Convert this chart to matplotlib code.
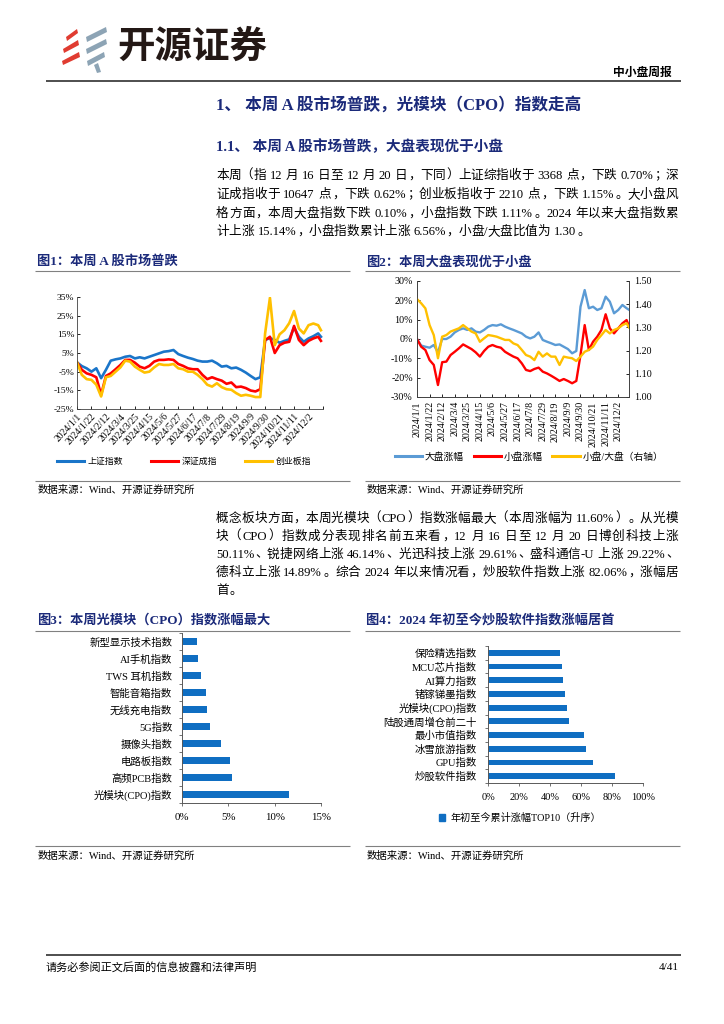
import re
import numpy as np
import pandas as pd
import matplotlib
matplotlib.use('Agg')
import matplotlib.pyplot as plt
from matplotlib.patches import Polygon, Patch
from matplotlib.lines import Line2D

CJK = 'Noto Sans CJK SC'
SERIF = ['Liberation Serif', CJK, 'DejaVu Sans']
plt.rcParams['font.family'] = SERIF
plt.rcParams['axes.unicode_minus'] = False

# ---------------- data ----------------
dates = list(pd.date_range('2024-01-01', '2024-12-16', freq='7D')) + [pd.Timestamp('2024-12-20')]

sh_index = [0, -2.0, -3.2, -5.0, -3.2, -8.5, -4.0, 0.9, 1.6, 2.1,
            3.0, 3.4, 2.1, 2.7, 2.1, 3.0, 3.9, 4.8, 5.7, 6.0,
            6.6, 4.4, 3.4, 2.5, 1.8, 0.9, 0.4, 0.4, 0.9, -0.5,
            -2.3, -1.9, -3.2, -2.8, -4.0, -5.5, -7.3, -9.0, -8.0, 12.0,
            13.0, 12.0, 10.5, 11.5, 12.3, 18.7, 13.7, 11.0, 12.8, 14.0,
            15.5, 13.7]
sz_index = [0, -4.0, -5.9, -6.7, -8.0, -17.4, -7.3, -5.9, -3.7, -1.4,
            1.3, 1.3, -0.2, -2.3, -3.2, -1.9, 0.4, 1.3, 1.3, 1.6,
            1.3, -0.9, -1.9, -3.2, -3.7, -3.7, -6.7, -9.0, -8.0, -9.0,
            -9.8, -11.5, -10.8, -13.3, -13.0, -13.8, -15.1, -15.6, -14.4, 11.9,
            13.7, 5.0, 9.2, 10.5, 11.0, 19.5, 12.0, 9.2, 11.5, 12.8,
            13.7, 11.5]
cyb_index = [0, -6.7, -9.0, -9.4, -12.0, -18.3, -8.0, -7.3, -5.0, -2.7,
             0.9, 0.4, -2.3, -4.0, -5.5, -5.0, -2.7, -0.9, -1.4, -1.4,
             -0.9, -3.2, -3.7, -5.0, -5.0, -6.7, -9.0, -12.0, -13.0, -11.2,
             -13.3, -14.4, -14.7, -16.5, -17.9, -17.4, -17.9, -18.6, -18.6, 15.5,
             34.6, 9.2, 15.0, 17.2, 21.0, 27.5, 18.1, 15.5, 19.9, 20.8,
             19.9, 17.2]
chart1_names = ['上证指数', '深证成指', '创业板指']

big_cap = [0, -3.4, -4.0, -4.5, -3.1, -6.9, 0, 0, 1.2, 3.4,
           4.7, 5.5, 4.7, 5.5, 3.8, 3.4, 4.7, 6.4, 7.2, 6.9,
           7.6, 6.4, 5.5, 4.7, 3.8, 2.9, 1.2, 0.3, 1.2, 3.4,
           -0.5, -1.4, -2.2, -3.1, -2.8, -4.0, -5.2, -7.4, -6.2, 16.7,
           25.3, 15.9, 16.7, 15.0, 15.9, 21.9, 19.3, 13.3, 15.0, 17.6,
           15.9, 15.1]
small_cap = [0, -4.0, -5.7, -10.9, -13.4, -23.8, -12.0, -11.7, -8.3, -6.6,
             -4.8, -2.8, -4.0, -5.2, -6.9, -9.1, -6.2, -4.0, -3.1, -4.0,
             -4.5, -6.6, -7.9, -9.1, -10.0, -12.6, -16.0, -16.6, -15.5, -14.8,
             -16.9, -17.8, -19.0, -20.3, -21.7, -20.7, -21.7, -22.9, -21.7, -8.3,
             7.2, -5.7, -1.4, 1.2, 4.7, 12.8, 5.5, 2.9, 5.5, 8.1,
             9.8, 6.6]
small_big_ratio = [1.422, 1.404, 1.382, 1.31, 1.267, 1.167, 1.26, 1.267, 1.282, 1.289,
                   1.296, 1.31, 1.296, 1.282, 1.274, 1.238, 1.253, 1.267, 1.264, 1.26,
                   1.253, 1.246, 1.246, 1.231, 1.224, 1.203, 1.181, 1.174, 1.159, 1.195,
                   1.174, 1.188, 1.174, 1.174, 1.138, 1.174, 1.17, 1.167, 1.155, 1.174,
                   1.195, 1.203, 1.217, 1.246, 1.267, 1.289, 1.274, 1.289, 1.296, 1.31,
                   1.318, 1.30]
chart2_names = ['大盘涨幅', '小盘涨幅', '小盘/大盘（右轴）']

cpo_cats = ['新型显示技术指数', 'AI手机指数', 'TWS 耳机指数', '智能音箱指数', '无线充电指数',
            '5G指数', '摄像头指数', '电路板指数', '高频PCB指数', '光模块(CPO)指数']
cpo_vals = [1.66, 1.7, 2.0, 2.56, 2.74, 3.0, 4.19, 5.13, 5.4, 11.6]

ytd_cats = ['保险精选指数', 'MCU芯片指数', 'AI算力指数', '锗镓锑墨指数', '光模块(CPO)指数',
            '陆股通周增仓前二十', '最小市值指数', '冰雪旅游指数', 'GPU指数', '炒股软件指数']
ytd_vals = [46.2, 48.0, 48.2, 49.7, 50.8, 52.5, 62.0, 63.2, 68.0, 82.06]
ytd_legend = '年初至今累计涨幅TOP10（升序）'

para1 = ['本周（指 12 月 16 日至 12 月 20 日，下同）上证综指收于 3368 点，下跌 0.70%；深',
         '证成指收于 10647 点，下跌 0.62%；创业板指收于 2210 点，下跌 1.15%。大小盘风',
         '格方面，本周大盘指数下跌 0.10%，小盘指数下跌 1.11%。2024 年以来大盘指数累',
         '计上涨 15.14%，小盘指数累计上涨 6.56%，小盘/大盘比值为 1.30。']
para2 = ['概念板块方面，本周光模块（CPO）指数涨幅最大（本周涨幅为 11.60%）。从光模',
         '块（CPO）指数成分表现排名前五来看，12 月 16 日至 12 月 20 日博创科技上涨',
         '50.11%、锐捷网络上涨 46.14%、光迅科技上涨 29.61%、盛科通信-U 上涨 29.22%、',
         '德科立上涨 14.89%。综合 2024 年以来情况看，炒股软件指数上涨 82.06%，涨幅居',
         '首。']

# ---------------- styles ----------------
NAVY = '#1B2A7A'
BLUE1 = '#1A75C9'
RED = '#FF0000'
GOLD = '#FFC000'
LBLUE = '#5B9BD5'
BAR = '#0F6EC2'
GRAY = '#808080'

W, H = 724, 1024
fig = plt.figure(figsize=(W / 100, H / 100), dpi=100)
page = fig.add_axes([0, 0, 1, 1])
page.set_xlim(0, W)
page.set_ylim(H, 0)
page.axis('off')
renderer = fig.canvas.get_renderer()


def px_rect(x0, y0, x1, y1):
    return [x0 / W, 1 - y1 / H, (x1 - x0) / W, (y1 - y0) / H]


def hline(y, x0, x1, lw=0.8, color=GRAY):
    page.plot([x0, x1], [y, y], color=color, lw=lw, solid_capstyle='butt')


OPEN = '（《“‘【'
CLOSE = '，。、；：）》”’】！？'


def put_line(yc, s, x0=216, x1=None, size=9.1, color='black'):
    parts = re.findall(r'\s+|[\x21-\x7e]+|.', s)
    toks, gaps, pend = [], [], False
    for p in parts:
        if p.isspace():
            pend = True
            continue
        toks.append(p)
        gaps.append(pend)
        pend = False
    em = size * 100 / 72
    sp = 0.28 * em
    base = yc + 0.36 * em
    objs, widths = [], []
    for t in toks:
        if len(t) == 1 and ord(t) > 0x2E7F:
            if t in OPEN:
                o = page.text(0, base, t, fontsize=size, color=color, ha='right', va='baseline')
            elif t in CLOSE:
                o = page.text(0, base, t, fontsize=size, color=color, ha='left', va='baseline')
            else:
                o = page.text(0, base, t, fontsize=size, color=color, ha='center', va='baseline')
            objs.append(o)
            widths.append(em)
        else:
            o = page.text(0, base, t, fontsize=size, color=color, ha='left', va='baseline')
            objs.append(o)
            widths.append(o.get_window_extent(renderer).width)
    total = sum(widths) + sp * sum(gaps[1:])
    extra = 0.0
    if x1 is not None and len(toks) > 1:
        extra = (x1 - x0 - total) / (len(toks) - 1)
    x = x0
    for i, (t, o) in enumerate(zip(toks, objs)):
        if i > 0:
            x += extra + (sp if gaps[i] else 0)
        if len(t) == 1 and ord(t) > 0x2E7F:
            if t in OPEN:
                o.set_x(x + widths[i] * 0.95)
            elif t in CLOSE:
                o.set_x(x + widths[i] * 0.08)
            else:
                o.set_x(x + widths[i] / 2)
        else:
            o.set_x(x)
        x += widths[i]


# ---------------- header ----------------
red_logo = [[(66, 37), (77, 29), (78, 33), (67, 41)],
            [(63, 49), (78, 40), (79, 45), (64, 53)],
            [(62, 61), (79, 52), (80, 57), (63, 65)]]
gray_logo = [[(86, 37), (106, 27), (107, 32), (87, 42)],
             [(86, 49), (106, 39), (107, 44), (87, 54)],
             [(87, 61), (104, 52), (105, 57), (88, 66)],
             [(94, 65), (98, 63), (101, 72), (97, 73)]]
for pts in red_logo:
    page.add_patch(Polygon(pts, closed=True, color='#E03C31', lw=0))
for pts in gray_logo:
    page.add_patch(Polygon(pts, closed=True, color='#8DA4B5', lw=0))
page.text(117, 46, '开源证券', fontsize=27, fontweight='bold', family=CJK,
          color='#231815', ha='left', va='center')
page.text(672, 73, '中小盘周报', fontsize=8.5, fontweight='bold', ha='right', va='center')
hline(81, 46, 681, lw=1.3, color='#404040')

page.text(216, 105, '1、 本周 A 股市场普跌，光模块（CPO）指数走高', fontsize=12,
          fontweight='bold', color=NAVY, ha='left', va='center')
page.text(216, 147, '1.1、 本周 A 股市场普跌，大盘表现优于小盘', fontsize=10.5,
          fontweight='bold', color=NAVY, ha='left', va='center')

for i, (yy, s) in enumerate(zip([174, 193, 212, 230], para1)):
    put_line(yy, s, 216, None if i == len(para1) - 1 else 678)
for i, (yy, s) in enumerate(zip([517, 535, 553, 571, 589], para2)):
    put_line(yy, s, 216, None if i == len(para2) - 1 else 678)

# chart titles / rules
page.text(37, 262, '图1：本周 A 股市场普跌', fontsize=9.5, fontweight='bold', color=NAVY, va='center')
page.text(366, 262, '图2：本周大盘表现优于小盘', fontsize=9.5, fontweight='bold', color=NAVY, va='center')
hline(271, 35, 350)
hline(271, 365, 680)
hline(481, 35, 350)
hline(481, 365, 680)
page.text(38, 490, '数据来源：Wind、开源证券研究所', fontsize=7.5, va='center')
page.text(367, 490, '数据来源：Wind、开源证券研究所', fontsize=7.5, va='center')

page.text(37, 620, '图3：本周光模块（CPO）指数涨幅最大', fontsize=9.5, fontweight='bold', color=NAVY, va='center')
page.text(366, 620, '图4：2024 年初至今炒股软件指数涨幅居首', fontsize=9.5, fontweight='bold', color=NAVY, va='center')
hline(631, 35, 350)
hline(631, 365, 680)
hline(846, 35, 350)
hline(846, 365, 680)
page.text(38, 856, '数据来源：Wind、开源证券研究所', fontsize=7.5, va='center')
page.text(367, 856, '数据来源：Wind、开源证券研究所', fontsize=7.5, va='center')

# footer
hline(955, 46, 681, lw=1.3, color='#404040')
page.text(46, 967, '请务必参阅正文后面的信息披露和法律声明', fontsize=8, va='center')
page.text(679, 967, '4/41', fontsize=8, ha='right', va='center')

# ---------------- chart 1 ----------------
d0 = pd.Timestamp('2024-01-01')
ax1 = fig.add_axes(px_rect(77, 297, 323, 409))
for vals, col in zip([sh_index, sz_index, cyb_index], [BLUE1, RED, GOLD]):
    ax1.plot(dates, vals, color=col, lw=1.9)
ax1.set_xlim(d0, d0 + pd.Timedelta(days=357))
ax1.set_ylim(-25, 35)
ax1.set_yticks(np.arange(-25, 36, 10))
ax1.set_yticklabels([f'{v:.0f}%' for v in np.arange(-25, 36, 10)])
t1 = [d0 + pd.Timedelta(days=21 * k) for k in range(18)]
ax1.set_xticks(t1)
ax1.set_xticklabels([f'{d.year}/{d.month}/{d.day}' for d in t1[:-1]] + [''])
for lab in ax1.get_xticklabels():
    lab.set_rotation(47)
    lab.set_ha('right')
    lab.set_rotation_mode('anchor')
ax1.tick_params(direction='in', length=2.5, width=0.6, pad=2)
ax1.tick_params(axis='x', labelsize=6.9)
ax1.tick_params(axis='y', labelsize=6.8)
for s in ['top', 'right']:
    ax1.spines[s].set_visible(False)
for s in ['left', 'bottom']:
    ax1.spines[s].set_linewidth(0.6)
    ax1.spines[s].set_color('#404040')
h1 = [Line2D([0], [0], color=c, lw=2.2) for c in [BLUE1, RED, GOLD]]
fig.legend(h1, chart1_names, loc='center', bbox_to_anchor=(184 / W, 1 - 462 / H), ncol=3,
           frameon=False, fontsize=6.4, handlelength=3.0, handletextpad=0.4, columnspacing=3.2)

# ---------------- chart 2 ----------------
ax2 = fig.add_axes(px_rect(417, 281, 629, 397))
ax2.plot(dates, big_cap, color=LBLUE, lw=1.7)
ax2.plot(dates, small_cap, color=RED, lw=1.7)
ax2r = ax2.twinx()
ax2r.plot(dates, small_big_ratio, color=GOLD, lw=1.7)
ax2.set_xlim(d0, pd.Timestamp('2024-12-20'))
ax2.set_ylim(-30, 30)
ax2r.set_ylim(1.0, 1.5)
ax2.set_yticks(np.arange(-30, 31, 10))
ax2.set_yticklabels([f'{v:.0f}%' for v in np.arange(-30, 31, 10)])
ax2r.set_yticks(np.arange(1.0, 1.51, 0.1))
ax2r.set_yticklabels([f'{v:.2f}' for v in np.arange(1.0, 1.51, 0.1)])
t2 = [d0 + pd.Timedelta(days=21 * k) for k in range(17)]
ax2.set_xticks(t2)
ax2.set_xticklabels([f'{d.year}/{d.month}/{d.day}' for d in t2], rotation=90)
ax2.tick_params(direction='in', length=2.5, width=0.6, labelsize=7.2, pad=3)
ax2r.tick_params(direction='in', length=2.5, width=0.6, labelsize=7.2, pad=4)
for a in (ax2, ax2r):
    a.spines['top'].set_visible(False)
    for s in ['left', 'bottom', 'right']:
        a.spines[s].set_linewidth(0.6)
        a.spines[s].set_color('#404040')
h2 = [Line2D([0], [0], color=c, lw=2.2) for c in [LBLUE, RED, GOLD]]
fig.legend(h2, chart2_names, loc='center', bbox_to_anchor=(529 / W, 1 - 457 / H), ncol=3,
           frameon=False, fontsize=7, handlelength=2.8, handletextpad=0.3, columnspacing=1.0)

# ---------------- chart 3 ----------------
ax3 = fig.add_axes(px_rect(182, 633, 321, 803))
y3 = np.arange(len(cpo_cats))
ax3.barh(y3, cpo_vals[::-1], height=0.45, color=BAR)
ax3.set_ylim(-0.5, len(cpo_cats) - 0.5)
ax3.set_xlim(0, 15)
ax3.set_yticks(y3)
ax3.set_yticklabels(cpo_cats[::-1])
ax3.set_yticks(np.arange(-0.5, len(cpo_cats), 1), minor=True)
ax3.set_xticks([0, 5, 10, 15])
ax3.set_xticklabels(['0%', '5%', '10%', '15%'])
ax3.tick_params(axis='y', which='major', length=0, pad=7, labelsize=7.5)
ax3.tick_params(axis='y', which='minor', length=2.5, width=0.6, direction='out', color='#595959')
ax3.tick_params(axis='x', length=2.5, width=0.6, direction='out', pad=5, labelsize=7.8, color='#595959')
for s in ['top', 'right']:
    ax3.spines[s].set_visible(False)
for s in ['left', 'bottom']:
    ax3.spines[s].set_linewidth(0.7)
    ax3.spines[s].set_color('#595959')

# ---------------- chart 4 ----------------
ax4 = fig.add_axes(px_rect(488, 646, 643, 783))
y4 = np.arange(len(ytd_cats))
ax4.barh(y4, ytd_vals[::-1], height=0.42, color=BAR)
ax4.set_ylim(-0.5, len(ytd_cats) - 0.5)
ax4.set_xlim(0, 100)
ax4.set_yticks(y4)
ax4.set_yticklabels(ytd_cats[::-1])
ax4.set_yticks(np.arange(-0.5, len(ytd_cats), 1), minor=True)
ax4.set_xticks(np.arange(0, 101, 20))
ax4.set_xticklabels([f'{v}%' for v in range(0, 101, 20)])
ax4.tick_params(axis='y', which='major', length=0, pad=8, labelsize=7.5)
ax4.tick_params(axis='y', which='minor', length=2.5, width=0.6, direction='out', color='#595959')
ax4.tick_params(axis='x', length=2.5, width=0.6, direction='out', pad=5, labelsize=7.5, color='#595959')
for s in ['top', 'right']:
    ax4.spines[s].set_visible(False)
for s in ['left', 'bottom']:
    ax4.spines[s].set_linewidth(0.7)
    ax4.spines[s].set_color('#595959')
fig.legend([Patch(color=BAR)], [ytd_legend], loc='center', bbox_to_anchor=(520 / W, 1 - 818 / H),
           frameon=False, fontsize=7.3, handlelength=0.6, handleheight=0.6, handletextpad=0.5)

fig.savefig('out.png', dpi=100)
